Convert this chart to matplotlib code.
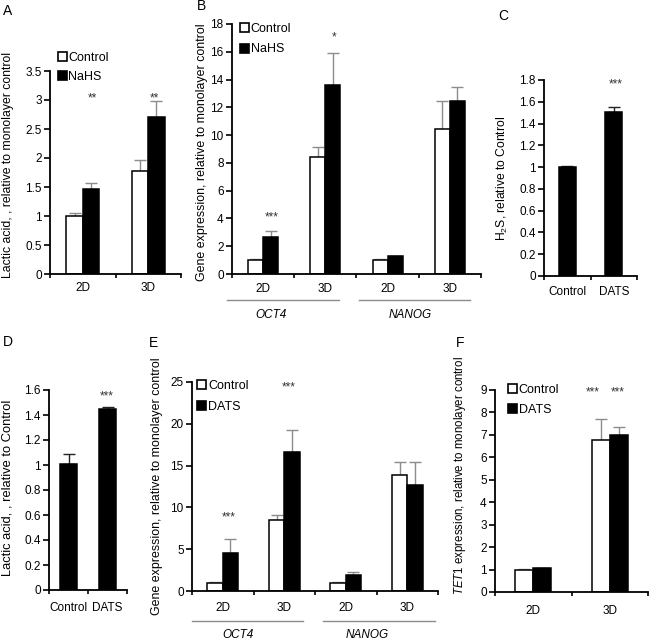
import numpy as np
import matplotlib.pyplot as plt
from matplotlib.patches import Patch
from matplotlib.transforms import blended_transform_factory

plt.rcParams["font.family"] = "Liberation Sans"
plt.rcParams["mathtext.fontset"] = "custom"
plt.rcParams["mathtext.rm"] = "Liberation Sans"
plt.rcParams["mathtext.it"] = "Liberation Sans:italic"

# ---- data ----
# A: lactic acid, NaHS
a_cats = ["2D", "3D"]
a_ctrl = [1.0, 1.77]
a_ctrl_err = [0.05, 0.19]
a_nahs = [1.46, 2.70]
a_nahs_err = [0.11, 0.28]
a_stars = ["**", "**"]
a_star_x = [0.14, 1.09]
a_star_y = [3.09, 3.09]

# B: gene expression, NaHS
b_cats = ["2D", "3D", "2D", "3D"]
b_ctrl = [1.0, 8.45, 1.0, 10.45]
b_ctrl_err = [0.1, 0.7, 0.05, 2.0]
b_nahs = [2.64, 13.6, 1.3, 12.45]
b_nahs_err = [0.45, 2.3, 0.03, 1.05]
b_stars = ["***", "*"]
b_star_x = [0.14, 1.14]
b_star_y = [4.37, 17.3]

# C: H2S, DATS
c_cats = ["Control", "DATS"]
c_vals = [1.0, 1.51]
c_err = [0.01, 0.045]

# D: lactic acid, DATS
d_cats = ["Control", "DATS"]
d_vals = [1.01, 1.448]
d_err = [0.078, 0.015]

# E: gene expression, DATS
e_cats = ["2D", "3D", "2D", "3D"]
e_ctrl = [1.0, 8.45, 1.0, 13.9]
e_ctrl_err = [0.05, 0.7, 0.05, 1.5]
e_dats = [4.58, 16.6, 1.9, 12.7]
e_dats_err = [1.65, 2.6, 0.4, 2.7]
e_stars = ["***", "***"]
e_star_x = [0.09, 1.07]
e_star_y = [9.2, 24.8]

# F: TET1 expression, DATS
f_cats = ["2D", "3D"]
f_ctrl = [1.0, 6.79]
f_ctrl_err = [0.01, 0.93]
f_dats = [1.05, 7.0]
f_dats_err = [0.01, 0.35]
f_stars = ["***", "***"]
f_star_x = [0.78, 1.1]
f_star_y = [9.05, 9.05]

GRAY = "#8c8c8c"
TICK_FS = 8.5
LEG_FS = 9

fig = plt.figure(figsize=(6.49, 6.41), dpi=100)
W, H = 649, 641


def make_ax(left, right, top, bottom):
    # pixel box -> figure fraction
    return fig.add_axes([left / W, 1 - bottom / H, (right - left) / W, (bottom - top) / H])


def style_ax(ax, cats, ylim, yticks, ytick_labels, pad):
    n = len(cats)
    ax.set_xlim(-0.5, n - 0.5)
    ax.set_ylim(*ylim)
    ax.spines[["top", "right"]].set_visible(False)
    for s in ["left", "bottom"]:
        ax.spines[s].set_linewidth(1.3)
    ax.set_xticks(range(n))
    ax.set_xticklabels(cats, fontsize=TICK_FS)
    ax.set_xticks(np.arange(n + 1) - 0.5, minor=True)
    ax.tick_params(axis="x", which="major", length=0, pad=pad)
    ax.tick_params(axis="x", which="minor", length=3, width=1.2, direction="out")
    ax.set_yticks(yticks)
    ax.set_yticklabels(ytick_labels, fontsize=TICK_FS)
    ax.tick_params(axis="y", length=4, width=1.2, direction="out", pad=2)


def paired(ax, ctrl, ctrl_err, trt, trt_err, width):
    x = np.arange(len(ctrl))
    ax.bar(x - width / 2, ctrl, width, color="white", edgecolor="black", linewidth=1.1, zorder=2)
    ax.bar(x + width / 2, trt, width, color="black", edgecolor="black", linewidth=1.1, zorder=2)
    ax.errorbar(x - width / 2, ctrl, yerr=[np.zeros(len(ctrl)), ctrl_err], fmt="none",
                ecolor=GRAY, elinewidth=1, capsize=4.5, capthick=1, zorder=1)
    ax.errorbar(x + width / 2, trt, yerr=[np.zeros(len(trt)), trt_err], fmt="none",
                ecolor=GRAY, elinewidth=1, capsize=4.5, capthick=1, zorder=1)


def single(ax, vals, err, width):
    x = np.arange(len(vals))
    ax.bar(x, vals, width, color="black", edgecolor="black", linewidth=1.1, zorder=2)
    ax.errorbar(x, vals, yerr=[np.zeros(len(vals)), err], fmt="none",
                ecolor="#222222", elinewidth=1, capsize=4.5, capthick=1, zorder=1)


def stars(ax, labels, xs, ys):
    for s, x, y in zip(labels, xs, ys):
        ax.annotate(s, (x, y), xytext=(0, -4.8), textcoords="offset points",
                    ha="center", va="baseline", fontsize=8.5, color="#333333",
                    annotation_clip=False)


def legend(ax, trt_name, x, y, spacing):
    handles = [Patch(facecolor="white", edgecolor="black", linewidth=1.2, label="Control"),
               Patch(facecolor="black", edgecolor="black", linewidth=1.2, label=trt_name)]
    ax.legend(handles=handles, loc="upper left", bbox_to_anchor=(x, y), frameon=False,
              fontsize=LEG_FS, handlelength=0.7, handleheight=0.7, handletextpad=0.15,
              labelspacing=spacing, borderpad=0, borderaxespad=0)


def ylabel(ax, text, x, y, size):
    ax.set_ylabel(text, fontsize=size, va="center")
    ax.yaxis.set_label_coords(x, y)


def gene_groups(ax, lines, texts, line_y, text_y):
    tr = blended_transform_factory(ax.transData, ax.transAxes)
    for (x0, x1) in lines:
        ax.plot([x0, x1], [line_y, line_y], color=GRAY, lw=1, transform=tr, clip_on=False)
    for name, xt in texts:
        ax.text(xt, text_y, name, transform=tr, ha="center", va="center",
                fontsize=TICK_FS, style="italic")


# ---- A ----
ax = make_ax(50, 181, 71, 274)
paired(ax, a_ctrl, a_ctrl_err, a_nahs, a_nahs_err, 0.25)
style_ax(ax, a_cats, (0, 3.5), np.arange(0, 3.51, 0.5),
         ["0", "0.5", "1", "1.5", "2", "2.5", "3", "3.5"], 5.5)
stars(ax, a_stars, a_star_x, a_star_y)
legend(ax, "NaHS", 0.06, 1.095, 0.55)
ylabel(ax, "Lactic acid, , relative to monolayer control", -0.32, 0.537, 8.8)

# ---- B ----
ax = make_ax(232, 481, 24, 274)
paired(ax, b_ctrl, b_ctrl_err, b_nahs, b_nahs_err, 0.24)
style_ax(ax, b_cats, (0, 18), np.arange(0, 18.1, 2), [str(v) for v in range(0, 19, 2)], 6.5)
stars(ax, b_stars, b_star_x, b_star_y)
legend(ax, "NaHS", 0.032, 1.005, 0.7)
ylabel(ax, "Gene expression, relative to monolayer control", -0.12, 0.486, 8.9)
gene_groups(ax, [(-0.58, 1.22), (1.54, 3.32)], [("OCT4", 0.12), ("NANOG", 2.37)], -0.104, -0.164)

# ---- C ----
ax = make_ax(544, 637, 80, 276)
single(ax, c_vals, c_err, 0.37)
style_ax(ax, c_cats, (0, 1.8), np.arange(0, 1.81, 0.2),
         ["0", "0.2", "0.4", "0.6", "0.8", "1", "1.2", "1.4", "1.6", "1.8"], 7.5)
stars(ax, ["***"], [1.05], [1.79])
ylabel(ax, "H$_2$S, relative to Control", -0.45, 0.5, 8.7)

# ---- D ----
ax = make_ax(49, 127, 390, 590)
single(ax, d_vals, d_err, 0.44)
style_ax(ax, d_cats, (0, 1.6), np.arange(0, 1.61, 0.2),
         ["0", "0.2", "0.4", "0.6", "0.8", "1", "1.2", "1.4", "1.6"], 8.5)
stars(ax, ["***"], [0.99], [1.58])
ylabel(ax, "Lactic acid, , relative to Control", -0.526, 0.51, 9.3)

# ---- E ----
ax = make_ax(192, 438, 382, 591)
paired(ax, e_ctrl, e_ctrl_err, e_dats, e_dats_err, 0.25)
style_ax(ax, e_cats, (0, 25), np.arange(0, 25.1, 5), [str(v) for v in range(0, 26, 5)], 8)
stars(ax, e_stars, e_star_x, e_star_y)
legend(ax, "DATS", 0.022, 1.01, 0.7)
ylabel(ax, "Gene expression, relative to monolayer control", -0.142, 0.502, 8.9)
gene_groups(ax, [(-0.5, 1.3), (1.63, 3.45)], [("OCT4", 0.24), ("NANOG", 2.35)], -0.142, -0.21)

# ---- F ----
ax = make_ax(495, 648, 390, 592)
paired(ax, f_ctrl, f_ctrl_err, f_dats, f_dats_err, 0.235)
style_ax(ax, f_cats, (0, 9), np.arange(0, 9.1, 1), [str(v) for v in range(10)], 9)
stars(ax, f_stars, f_star_x, f_star_y)
legend(ax, "DATS", 0.085, 1.03, 0.65)
ylabel(ax, "$\\mathit{TET1}$ expression, relative to monolayer control", -0.229, 0.579, 8.3)

# ---- panel letters ----
for letter, px, py in [("A", 8, 11), ("B", 202, 6), ("C", 503, 16),
                       ("D", 8, 342), ("E", 153, 343), ("F", 460, 343)]:
    fig.text(px / W, 1 - py / H, letter, ha="center", va="center", fontsize=10)

fig.savefig("out.png", dpi=100)
